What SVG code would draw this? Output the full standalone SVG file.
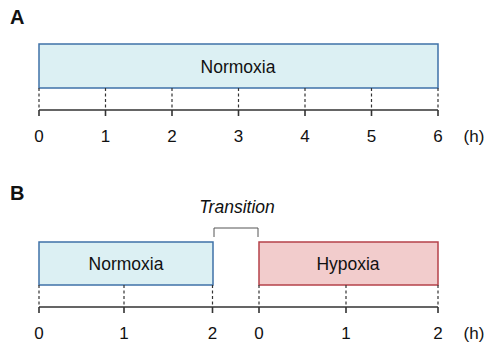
<svg xmlns="http://www.w3.org/2000/svg" width="487" height="345" viewBox="0 0 487 345">
<style>
text{font-family:"Liberation Sans",Arial,sans-serif;fill:#111}
.panel{font-size:20px;font-weight:bold}
.lbl{font-size:17.5px;text-anchor:middle}
.tk{font-size:17px;text-anchor:middle}
.norm{fill:#dcf0f3;stroke:#3f72a8;stroke-width:1.5}
.hyp{fill:#f2cccc;stroke:#b5424a;stroke-width:1.5}
.axis{stroke:#333;stroke-width:1.6;fill:none}
.dash{stroke:#333;stroke-width:1.2;stroke-dasharray:3,2.5;fill:none}
.br{stroke:#555;stroke-width:1;fill:none}
</style>
<rect width="487" height="345" fill="#fff"/>
<text class="panel" x="10" y="24">A</text>
<g id="normoxiaA">
<rect class="norm" x="39" y="44" width="399" height="44"/>
<text class="lbl" x="238" y="73">Normoxia</text>
</g>
<g id="axisA">
<path class="dash" d="M39 88V110M105.5 88V110M172 88V110M238.5 88V110M305 88V110M371.5 88V110M438 88V110"/>
<path class="axis" d="M39 110H438M39 110V116M105.5 110V116M172 110V116M238.5 110V116M305 110V116M371.5 110V116M438 110V116"/>
<text class="tk" x="39" y="142">0</text>
<text class="tk" x="105.5" y="142">1</text>
<text class="tk" x="172" y="142">2</text>
<text class="tk" x="238.5" y="142">3</text>
<text class="tk" x="305" y="142">4</text>
<text class="tk" x="371.5" y="142">5</text>
<text class="tk" x="438" y="142">6</text>
<text class="tk" x="474" y="142">(h)</text>
</g>
<text class="panel" x="10" y="200">B</text>
<g id="transition">
<text x="237" y="213" style="font-size:17.5px;font-style:italic;text-anchor:middle">Transition</text>
<path class="br" d="M214 237V228H258V237"/>
</g>
<g id="normoxiaB">
<rect class="norm" x="39" y="242" width="174" height="43"/>
<text class="lbl" x="126" y="270">Normoxia</text>
</g>
<g id="hypoxiaB">
<rect class="hyp" x="259" y="242" width="179" height="43"/>
<text class="lbl" x="348" y="270">Hypoxia</text>
</g>
<g id="axisB">
<path class="dash" d="M39 285V307M124 285V307M212.5 285V307M259 285V307M346 285V307M438 285V307"/>
<path class="axis" d="M39 307H438M39 307V313M124 307V313M212.5 307V313M259 307V313M346 307V313M438 307V313"/>
<text class="tk" x="39" y="339">0</text>
<text class="tk" x="124" y="339">1</text>
<text class="tk" x="212.5" y="339">2</text>
<text class="tk" x="259" y="339">0</text>
<text class="tk" x="346" y="339">1</text>
<text class="tk" x="438" y="339">2</text>
<text class="tk" x="474" y="339">(h)</text>
</g>
</svg>
